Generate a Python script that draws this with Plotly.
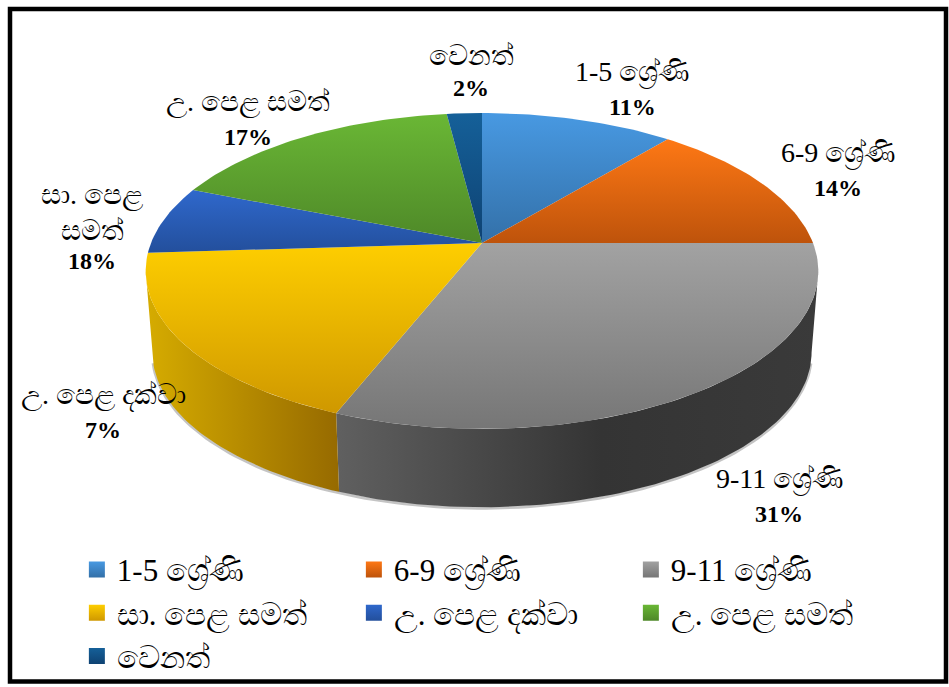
import math
import plotly.graph_objects as go

categories = ["1-5 ශ්‍රේණි", "6-9 ශ්‍රේණි", "9-11 ශ්‍රේණි", "සා. පෙළ සමත්", "උ. පෙළ දක්වා", "උ. පෙළ සමත්", "වෙනත්"]
slice_values = [11, 14, 31, 18, 7, 17, 2]
label_lines = ["1-5 ශ්‍රේණි", "6-9 ශ්‍රේණි", "9-11 ශ්‍රේණි", "සා. පෙළ<br>සමත්", "උ. පෙළ දක්වා", "උ. පෙළ සමත්", "වෙනත්"]
label_percents = ["11%", "14%", "31%", "18%", "7%", "17%", "2%"]

top_colors = [("#4899E2", "#3370A8"), ("#FE7815", "#BE530B"), ("#A2A2A2", "#767676"), ("#FECE00", "#CF9800"),
              ("#2F68CC", "#234F9C"), ("#6AB735", "#4E8828"), ("#156099", "#0E4272")]
wall_colors = {2: ("#606060", "#343434"), 3: ("#D6AC00", "#966A00")}

label_pos = [(632, 72, 107), (838, 153, 188), (779, 479, 514), (92, 212, 261), (103, 395, 430), (248, 102, 137), (471, 55, 88)]

AX, AY, RX, RY, K = 482, 243, 331, 153, 0.177
DEPTH_Y, WALL_SCALE = 82, 0.98


def rim(frac, scale=1.0, dy=0.0):
    t = 2 * math.pi * frac
    X, Y = math.sin(t), -math.cos(t)
    d = 1 - K * Y
    return AX + scale * RX * X / d, AY + dy + scale * RY * Y / d


def arc(f0, f1, scale=1.0, dy=0.0, n=None):
    n = n or max(2, int((f1 - f0) * 300))
    pts = [rim(f0 + (f1 - f0) * i / n, scale, dy) for i in range(n + 1)]
    return [p[0] for p in pts], [p[1] for p in pts]


total = sum(slice_values)
bounds = [0]
for v in slice_values:
    bounds.append(bounds[-1] + v / total)
tan_r = math.acos(-K) / (2 * math.pi)
tan_l = 1 - tan_r

fig = go.Figure()

# soft shadow along the lower edge
sx, sy = arc(tan_r + 0.01, tan_l - 0.01, WALL_SCALE, DEPTH_Y + 1)
fig.add_trace(go.Scatter(x=sx, y=sy, mode="lines", line=dict(color="rgba(60,60,60,0.3)", width=3),
                         showlegend=False, hoverinfo="skip"))

# side walls
for i, (c0, c1) in wall_colors.items():
    f0, f1 = max(bounds[i], tan_r), min(bounds[i + 1], tan_l)
    tx, ty = arc(f0, f1)
    bx, by = arc(f0, f1, WALL_SCALE, DEPTH_Y)
    cs = [[0, c0], [1, c1]] if i == 3 else [[0, c0], [0.55, c1], [1, "#3A3A3A"]]
    fig.add_trace(go.Scatter(x=tx + bx[::-1], y=ty + by[::-1], mode="lines", fill="toself",
                             line=dict(width=0), fillgradient=dict(type="horizontal", colorscale=cs),
                             showlegend=False, hoverinfo="skip"))

# top faces
for i, (c0, c1) in enumerate(top_colors):
    rx, ry = arc(bounds[i], bounds[i + 1])
    fig.add_trace(go.Scatter(x=[AX] + rx + [AX], y=[AY] + ry + [AY], mode="lines", fill="toself",
                             line=dict(width=0), fillgradient=dict(type="vertical", colorscale=[[0, c1], [1, c0]]),
                             showlegend=False, hoverinfo="skip"))

# legend entries
for name, (c0, c1) in zip(categories, top_colors):
    fig.add_trace(go.Scatter(x=[None], y=[None], mode="markers", name=name,
                             marker=dict(symbol="square", size=17, color=c0,
                                         gradient=dict(type="vertical", color=c1))))

FONT = "Liberation Serif, Noto Sans, serif"
annos = []
for text, pct, (x, y1, y2) in zip(label_lines, label_percents, label_pos):
    annos.append(dict(x=x, y=y1, text=text, showarrow=False, xanchor="center", yanchor="middle",
                      font=dict(family=FONT, size=28, color="#000000")))
    annos.append(dict(x=x, y=y2, text="<b>" + pct + "</b>", showarrow=False, xanchor="center", yanchor="middle",
                      font=dict(family=FONT, size=24, color="#000000")))

fig.update_layout(
    width=949, height=687, margin=dict(l=0, r=0, t=0, b=0, autoexpand=False), autosize=False,
    paper_bgcolor="white", plot_bgcolor="white",
    xaxis=dict(range=[0, 949], visible=False, fixedrange=True),
    yaxis=dict(range=[687, 0], visible=False, fixedrange=True),
    annotations=annos,
    shapes=[dict(type="rect", x0=10, y0=9, x1=946, y1=681.5, line=dict(color="black", width=4.5), layer="above")],
    legend=dict(orientation="h", x=0.081, y=0.21, xanchor="left", yanchor="top", entrywidth=232,
                entrywidthmode="pixels", tracegroupgap=0, font=dict(family=FONT, size=31, color="#000000"),
                bgcolor="rgba(0,0,0,0)"),
)
fig.write_html("out.html", post_script="document.body.style.margin='0';", config={"displayModeBar": False})
